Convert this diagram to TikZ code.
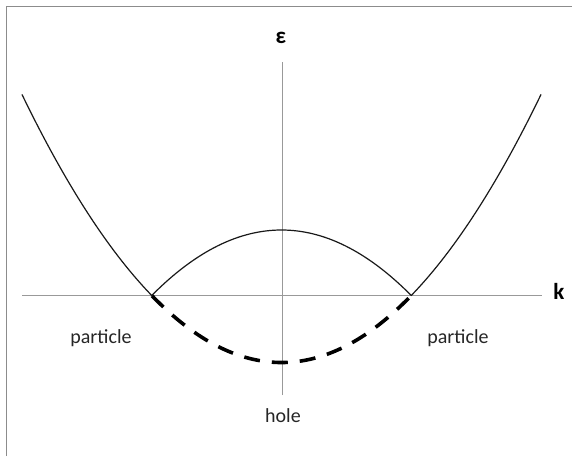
\documentclass[tikz,border=0pt]{standalone}
\usepackage{fontspec}
\setmainfont{Carlito}
\begin{document}
\begin{tikzpicture}[x=1pt,y=-1pt,
  axis/.style={draw=black!40, line width=1pt},
  curve/.style={draw=black!90, line width=1.2pt},
  holecurve/.style={draw=black, line width=3.6pt, dash pattern=on 16pt off 12pt},
  lbl/.style={text=black!85, font=\fontsize{20}{24}\selectfont, inner sep=0pt, anchor=base},
  axlbl/.style={text=black, font=\fontsize{23}{27}\selectfont\bfseries, inner sep=0pt, anchor=base}]
\useasboundingbox (0,0) rectangle (572,456);
\draw[draw=black!45, line width=1.6pt] (6.5,456) -- (6.5,6.5) -- (572,6.5);
% axes
\coordinate (xl) at (22,295);
\coordinate (xr) at (542,295);
\coordinate (yt) at (282,62);
\coordinate (yb) at (282,395);
\draw[axis] (xl) -- (xr);
\draw[axis] (yb) -- (yt);
% outer branches
\draw[curve] plot[domain=-259.5:-129.5, samples=60] ({281.5+\x},{362.5-39.8*(\x/100)*(\x/100)});
\draw[curve] plot[domain=129.5:259.5, samples=60] ({281.5+\x},{362.5-39.8*(\x/100)*(\x/100)});
% arch
\draw[curve] plot[domain=-129.5:129.5, samples=80] ({281.5+\x},{230+38.9*(\x/100)*(\x/100)});
% dashed hole branch
\draw[holecurve] plot[domain=-129.5:129.5, samples=100] ({281.5+\x},{362.5-39.8*(\x/100)*(\x/100)});
% labels
\node[axlbl] (eps) at (281,43) {ε};
\node[axlbl] (k) at (559,299) {k};
\node[lbl] (pl) at (101,343) {particle};
\node[lbl] (pr) at (458,343) {particle};
\node[lbl] (hole) at (283,422) {hole};
\end{tikzpicture}
\end{document}
